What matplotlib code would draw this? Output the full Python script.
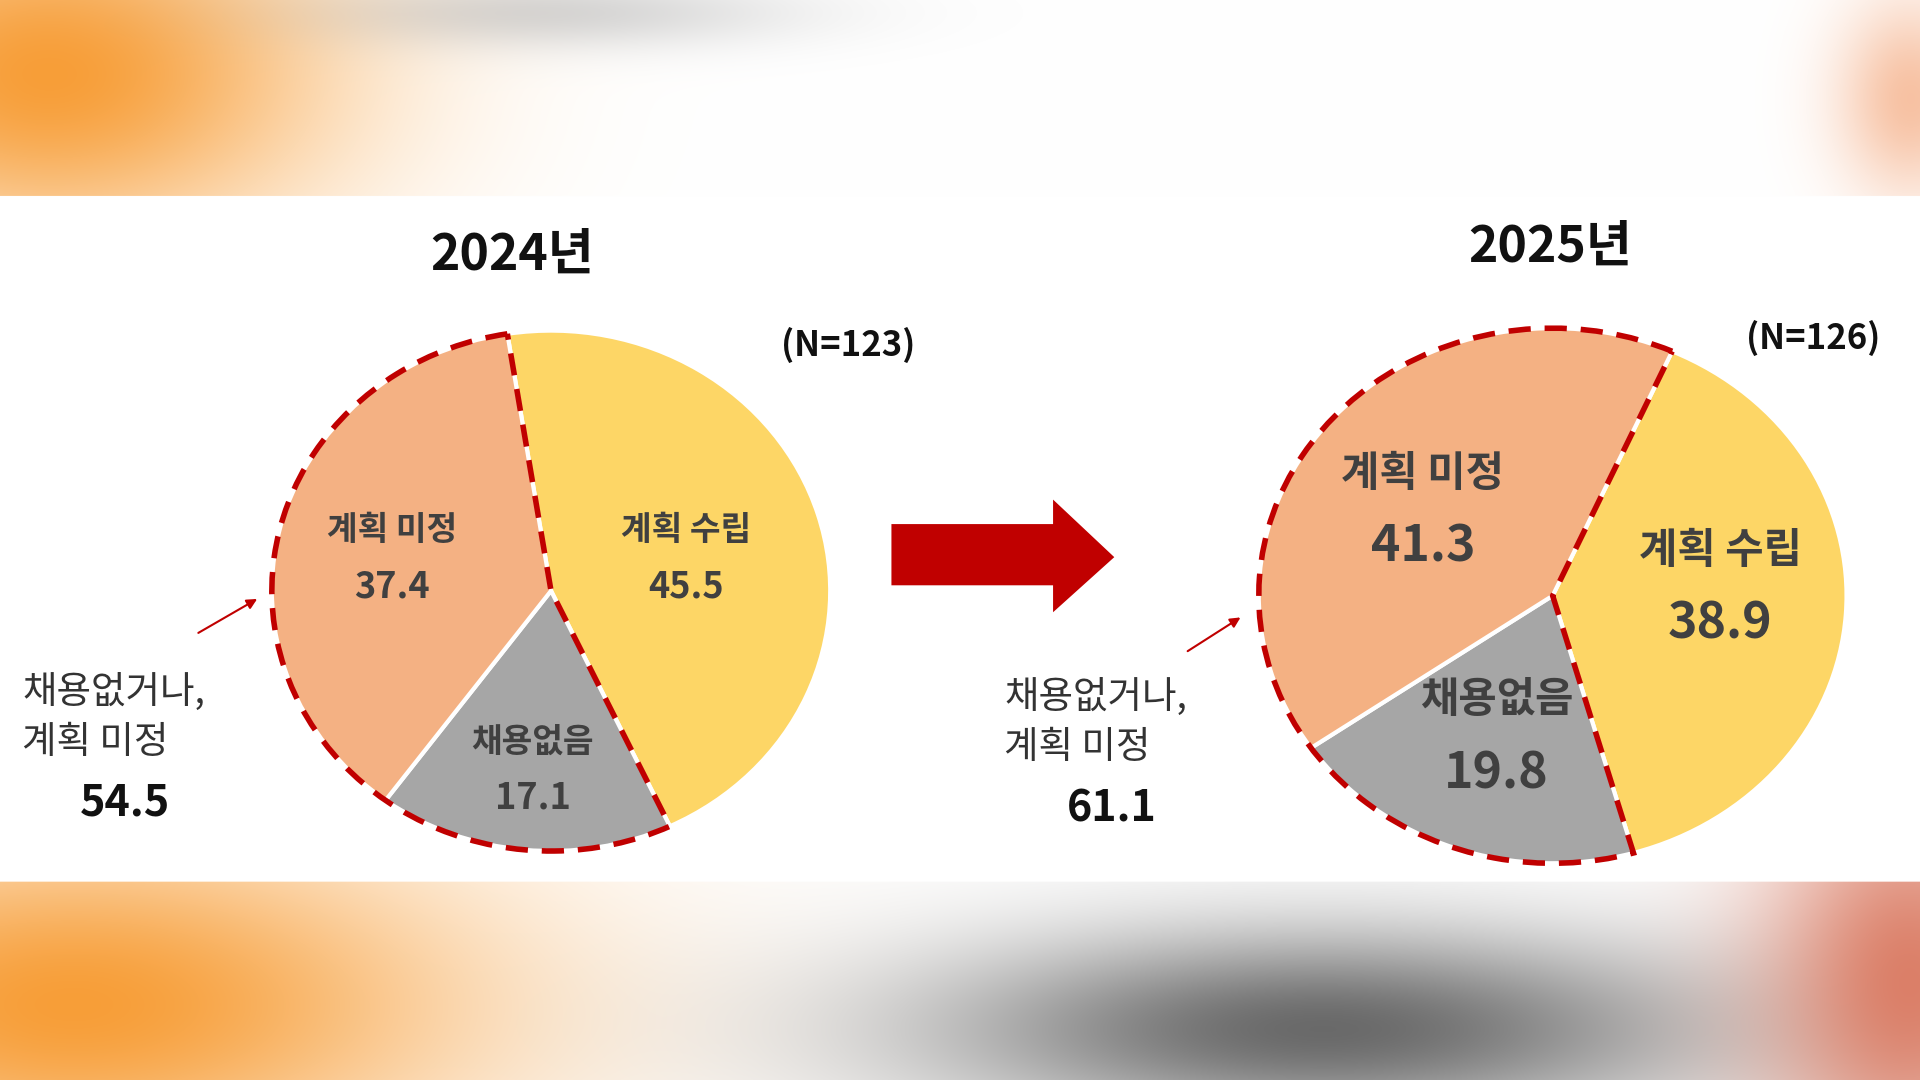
import numpy as np
import matplotlib
matplotlib.use("Agg")
import matplotlib.pyplot as plt
from matplotlib.patches import Wedge, Polygon

plt.rcParams['font.family'] = ['Noto Sans CJK KR', 'DejaVu Sans']

labels = ["계획 수립", "채용없음", "계획 미정"]
vals_2024 = [45.5, 17.1, 37.4]
vals_2025 = [38.9, 19.8, 41.3]
combined = ["54.5", "61.1"]
titles = ["2024년", "2025년"]
ns = ["(N=123)", "(N=126)"]
colors = ["#FDD666", "#A6A6A6", "#F4B183"]

W, H = 1568, 882
fig = plt.figure(figsize=(19.2, 10.8), dpi=100)

# blurred background decoration
yy, xx = np.mgrid[0:H, 0:W]
img = np.ones((H, W, 3))
def blob(cx, cy, sx, sy, col, a):
    g = a * np.exp(-(((xx - cx) / sx) ** 2 + ((yy - cy) / sy) ** 2))
    for k in range(3):
        img[..., k] = img[..., k] * (1 - g) + col[k] * g
blob(40, 60, 230, 140, (0.97, 0.62, 0.22), 1.0)
blob(60, 820, 330, 140, (0.97, 0.62, 0.22), 1.0)
blob(1080, 840, 330, 80, (0.35, 0.35, 0.35), 0.9)
blob(1560, 800, 120, 160, (0.85, 0.45, 0.35), 0.9)
blob(1560, 80, 60, 80, (0.95, 0.6, 0.4), 0.6)
blob(450, 10, 200, 30, (0.6, 0.6, 0.6), 0.4)
img[160:720] = 1.0
bg = fig.add_axes([0, 0, 1, 1])
bg.imshow(img, extent=[0, W, 0, H], origin="upper", aspect="auto")
bg.axis("off")

def Y(y): return H - y

pies = [
    dict(vals=vals_2024, box=(222, 270, 678, 695), start=99, fs=24, nfs=26, dy=(22, 24),
         tx=[(560, 455), (435, 628), (320, 455)]),
    dict(vals=vals_2025, box=(1028, 268, 1508, 705), start=66, fs=30, nfs=36, dy=(28, 32),
         tx=[(1405, 478), (1222, 600), (1162, 415)]),
]
for i, p in enumerate(pies):
    x0, y0, x1, y1 = p["box"]
    pa = fig.add_axes([x0 / W, (H - y1) / H, (x1 - x0) / W, (y1 - y0) / H])
    pa.pie(p["vals"], colors=colors, startangle=p["start"], counterclock=False,
           radius=1, wedgeprops=dict(edgecolor="white", linewidth=3))
    a_end = p["start"] - 360 * p["vals"][0] / 100
    pa.add_patch(Wedge((0, 0), 1.0, p["start"] - 360, a_end, fill=False,
                       edgecolor="#C00000", linewidth=4, linestyle=(0, (4, 2.5)), zorder=5,
                       clip_on=False))
    pa.set_aspect("auto")
    pa.set_xlim(-1, 1); pa.set_ylim(-1, 1)
    pa.axis("off")

ax = fig.add_axes([0, 0, 1, 1])
ax.set_xlim(0, W); ax.set_ylim(0, H); ax.axis("off")
ax.patch.set_alpha(0)

for i, p in enumerate(pies):
    for j in range(3):
        tx, ty = p["tx"][j]
        ax.text(tx, Y(ty) + p["dy"][0], labels[j], ha="center", va="center",
                fontsize=p["fs"], fontweight="bold", color="#404040", zorder=6)
        ax.text(tx, Y(ty) - p["dy"][1], f"{p['vals'][j]}", ha="center", va="center",
                fontsize=p["nfs"], fontweight="bold", color="#404040", zorder=6)

ax.text(418, Y(208), titles[0], ha="center", va="center", fontsize=36, fontweight="bold", color="#111111")
ax.text(1266, Y(202), titles[1], ha="center", va="center", fontsize=36, fontweight="bold", color="#111111")
ax.text(693, Y(282), ns[0], ha="center", va="center", fontsize=25, fontweight="bold", color="#111111")
ax.text(1481, Y(276), ns[1], ha="center", va="center", fontsize=25, fontweight="bold", color="#111111")

for k, (x0, txt_y, num_x, num_y, a0, a1) in enumerate([(18, 586, 102, 655, (160, 518), (212, 488)),
                                                       (820, 590, 908, 660, (968, 533), (1015, 503))]):
    ax.text(x0, Y(txt_y), "채용없거나,\n계획 미정", ha="left", va="center", fontsize=27,
            fontweight="medium", color="#333333", linespacing=1.35)
    ax.text(num_x, Y(num_y), combined[k], ha="center", va="center",
            fontsize=31, fontweight="bold", color="#111111")
    ax.annotate("", xy=(a1[0], Y(a1[1])), xytext=(a0[0], Y(a0[1])),
                arrowprops=dict(arrowstyle="-|>", color="#C00000", lw=1.5, mutation_scale=15))

ax.add_patch(Polygon([(728, Y(428)), (860, Y(428)), (860, Y(408)), (910, Y(455)),
                      (860, Y(500)), (860, Y(478)), (728, Y(478))], closed=True,
                     facecolor="#C00000", edgecolor="none"))

fig.savefig("out.png", dpi=100)
